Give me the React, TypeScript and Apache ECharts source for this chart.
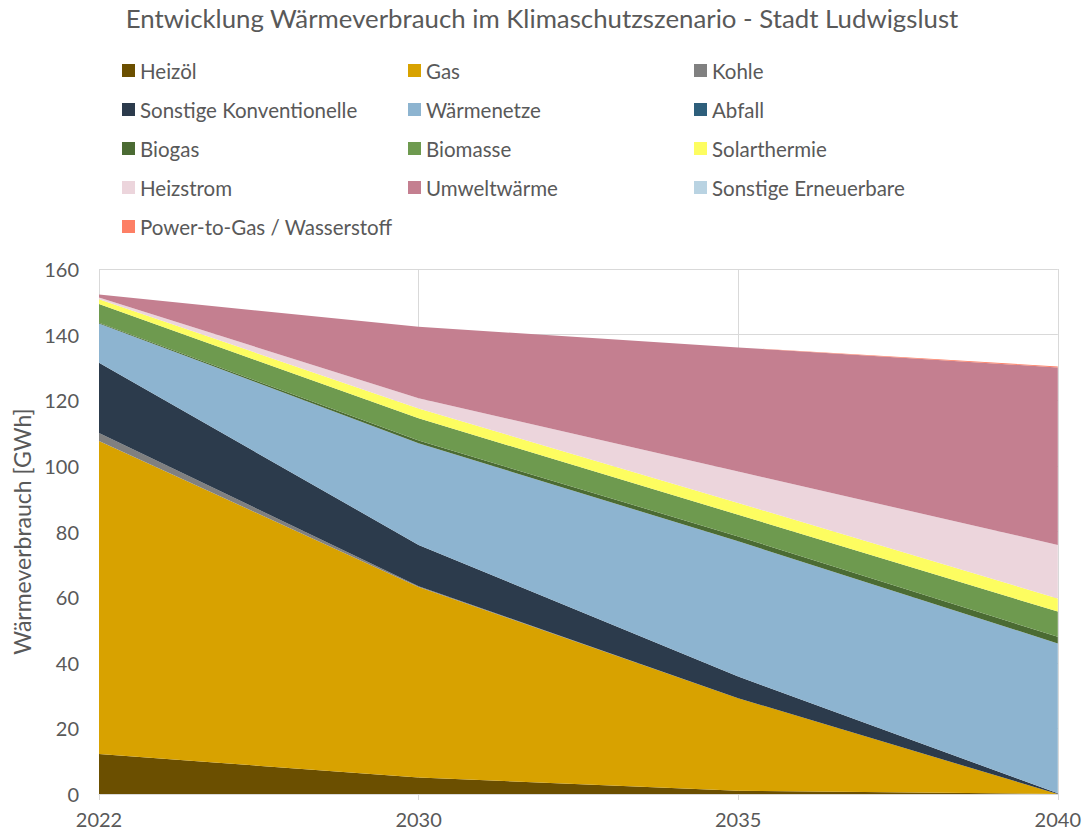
import React, { useEffect, useRef } from "react";
import * as echarts from "echarts";

const years = ["2022", "2030", "2035", "2040"];

const heizoel = [12.2, 5.0, 1.0, 0];
const gas = [95.4, 58.1, 28.2, 0];
const kohle = [2.4, 0.2, 0, 0];
const sonstKonv = [21.4, 12.6, 6.6, 0.2];
const waermenetze = [12.0, 31.0, 41.2, 45.7];
const abfall = [0, 0, 0, 0];
const biogas = [0.2, 0.8, 1.5, 2.0];
const biomasse = [5.7, 6.8, 6.6, 7.7];
const solarthermie = [1.5, 3.0, 3.6, 4.0];
const heizstrom = [0.5, 3.1, 9.6, 16.3];
const umweltwaerme = [0.9, 21.8, 37.8, 54.1];
const sonstErneuerbar = [0, 0, 0, 0];
const p2g = [0, 0, 0, 0.3];

const seriesDefs = [
  { name: "Heizöl", data: heizoel, color: "#6b4f00" },
  { name: "Gas", data: gas, color: "#d8a200" },
  { name: "Kohle", data: kohle, color: "#808080" },
  { name: "Sonstige Konventionelle", data: sonstKonv, color: "#2c3b4c" },
  { name: "Wärmenetze", data: waermenetze, color: "#8db4d0" },
  { name: "Abfall", data: abfall, color: "#2e5f7b" },
  { name: "Biogas", data: biogas, color: "#4b6b33" },
  { name: "Biomasse", data: biomasse, color: "#6e9a4f" },
  { name: "Solarthermie", data: solarthermie, color: "#fdfd60" },
  { name: "Heizstrom", data: heizstrom, color: "#ecd5dc" },
  { name: "Umweltwärme", data: umweltwaerme, color: "#c47f90" },
  { name: "Sonstige Erneuerbare", data: sonstErneuerbar, color: "#b9d3e2" },
  { name: "Power-to-Gas / Wasserstoff", data: p2g, color: "#fd7f65" },
];

const legendCol1 = ["Heizöl", "Sonstige Konventionelle", "Biogas", "Heizstrom", "Power-to-Gas / Wasserstoff"];
const legendCol2 = ["Gas", "Wärmenetze", "Biomasse", "Umweltwärme"];
const legendCol3 = ["Kohle", "Abfall", "Solarthermie", "Sonstige Erneuerbare"];

const FONT = "Lato";
const TXT = "#595959";

export default function App() {
  const ref = useRef<HTMLDivElement>(null);
  useEffect(() => {
    if (!ref.current) return;
    const chart = echarts.init(ref.current, undefined, { renderer: "svg" });
    const legendBase = {
      orient: "vertical" as const,
      top: 60,
      padding: 0,
      itemWidth: 13,
      itemHeight: 13,
      itemGap: 19,
      icon: "rect",
      selectedMode: false,
      textStyle: { fontFamily: FONT, fontSize: 20.5, color: TXT, lineHeight: 20 },
    };
    chart.setOption({
      animation: false,
      textStyle: { fontFamily: FONT },
      title: {
        text: "Entwicklung Wärmeverbrauch im Klimaschutzszenario - Stadt Ludwigslust",
        left: "center",
        top: 0,
        textStyle: { fontFamily: FONT, fontSize: 25.8, fontWeight: "normal", color: TXT },
      },
      legend: [
        { ...legendBase, left: 122, data: legendCol1 },
        { ...legendBase, left: 408, data: legendCol2 },
        { ...legendBase, left: 694, data: legendCol3 },
      ].map((l) => ({ ...l, itemGap: 18 })),
      grid: { left: 99, right: 25, top: 269, bottom: 41, containLabel: false },
      xAxis: {
        type: "category",
        data: years,
        boundaryGap: false,
        axisLine: { show: true, lineStyle: { color: "#d9d9d9" } },
        axisTick: { show: true, length: 6, lineStyle: { color: "#d9d9d9" } },
        splitLine: { show: true, lineStyle: { color: "#d9d9d9" } },
        axisLabel: { fontFamily: FONT, fontSize: 20, color: TXT, margin: 15 },
      },
      yAxis: {
        type: "value",
        min: 0,
        max: 160,
        interval: 20,
        name: "Wärmeverbrauch [GWh]",
        nameLocation: "middle",
        nameGap: 66,
        nameTextStyle: { fontFamily: FONT, fontSize: 23, color: TXT },
        axisLine: { show: false },
        axisTick: { show: false },
        splitLine: { show: true, lineStyle: { color: "#d9d9d9" } },
        axisLabel: { fontFamily: FONT, fontSize: 20, color: TXT, margin: 20 },
      },
      series: seriesDefs.map((s) => ({
        name: s.name,
        type: "line",
        stack: "total",
        data: s.data,
        showSymbol: false,
        symbol: "none",
        lineStyle: { width: 0 },
        areaStyle: { color: s.color, opacity: 1 },
        itemStyle: { color: s.color },
        emphasis: { disabled: true },
      })),
    });
    return () => chart.dispose();
  }, []);
  return (
    <div
      ref={ref}
      style={{ position: "absolute", left: 0, top: 0, width: 1084, height: 835, background: "#fff" }}
    />
  );
}
